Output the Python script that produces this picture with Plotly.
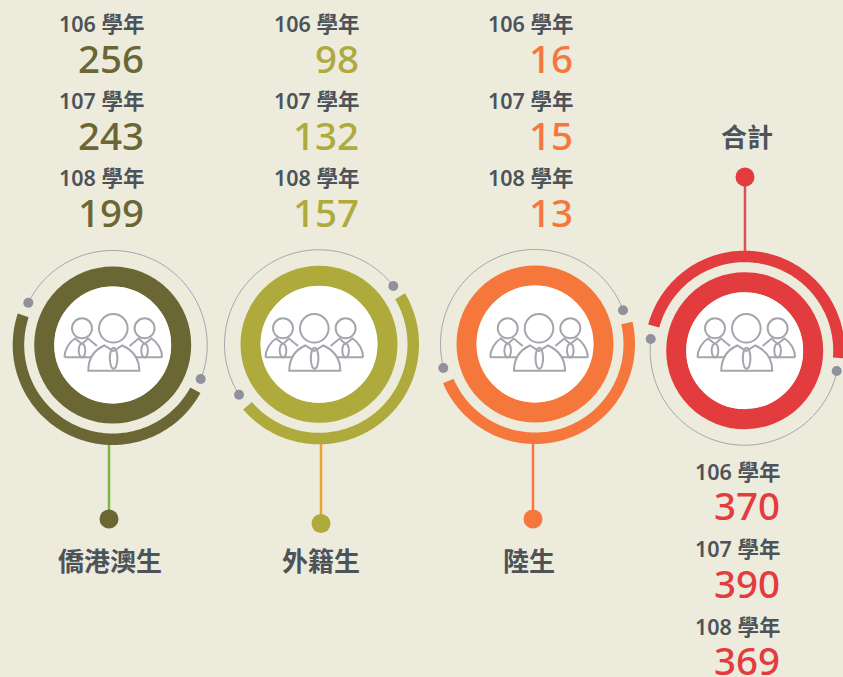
import numpy as np
import plotly.graph_objects as go

# ---- data ----
categories = ["僑港澳生", "外籍生", "陸生", "合計"]
years = ["106 學年", "107 學年", "108 學年"]
overseas = [256, 243, 199]
foreign = [98, 132, 157]
mainland = [16, 15, 13]
total = [370, 390, 369]
series = [overseas, foreign, mainland, total]

# ---- style / layout ----
BG = "#ecebdc"
TEXT = "#4d5359"
GREY = "#8f919b"
THIN = "#a2a4ac"
ICON = "#a4a6ae"
FONT = "'Noto Sans','Noto Sans CJK TC','Noto Sans CJK SC',sans-serif"

panels = [
    dict(c="#6a6735", cx=112.7, cy=345.0, ix=113.3, right=145, conn="#7ab648",
         line=(109, 437, 519), dot=(109, 519), label=(110, 561),
         a=(-90.7, -30, 82, 45, "ccw"), t=(28.3, 302.7, 200.7, 379), ty=[24, 101, 178], vy=[59, 136, 213]),
    dict(c="#aeaa3c", cx=319.0, cy=344.3, ix=314.3, right=360, conn="#f0a030",
         line=(321, 443, 523), dot=(321, 523.5), label=(321, 561),
         a=(-72, 62, 81, -48, "ccw"), t=(239, 394.7, 393.3, 286), ty=[24, 101, 178], vy=[59, 136, 213]),
    dict(c="#f6773c", cx=535.0, cy=344.0, ix=539.0, right=574, conn="#f6773c",
         line=(533, 437, 519), dot=(533, 519), label=(529, 561),
         a=(-87, 37, 92, -21, "ccw"), t=(443.3, 368, 623, 310.3), ty=[24, 101, 178], vy=[59, 136, 213]),
    dict(c="#e33c3e", cx=744.7, cy=350.7, ix=746.3, right=781, conn="#dc5252",
         line=(745, 177, 251), dot=(745, 177), label=(747, 137),
         a=(-90.7, -24.7, 93.6, 7.3, "cw"), t=(650.7, 339, 836.7, 371), ty=[472, 549, 627], vy=[506, 584, 661]),
]

shapes = []
annotations = []


def circle(x, y, r, fill, line=None, w=0):
    shapes.append(dict(type="circle", xref="x", yref="y", x0=x - r, x1=x + r, y0=y - r, y1=y + r,
                       fillcolor=fill, line=dict(color=line or fill, width=w)))


def path(d, color, w=2.0, fill=None):
    shapes.append(dict(type="path", xref="x", yref="y", path=d, fillcolor=fill or "rgba(0,0,0,0)",
                       line=dict(color=color, width=w)))


def arc_pts(cx, cy, r, a0, a1, n=160):
    t = np.linspace(a0, a1, n)
    return cx + r * np.cos(t), cy + r * np.sin(t)


def band(cx, cy, r0, r1, a0, a1, color):
    xo, yo = arc_pts(cx, cy, r1, a0, a1)
    xi, yi = arc_pts(cx, cy, r0, a1, a0)
    xs = np.concatenate([xo, xi])
    ys = np.concatenate([yo, yi])
    d = "M" + " L".join(f"{x:.2f},{y:.2f}" for x, y in zip(xs, ys)) + " Z"
    shapes.append(dict(type="path", xref="x", yref="y", path=d, fillcolor=color, line=dict(width=0)))


def ellipse(x, y, rx, ry, color, w=2.0):
    shapes.append(dict(type="circle", xref="x", yref="y", x0=x - rx, x1=x + rx, y0=y - ry, y1=y + ry,
                       fillcolor="rgba(0,0,0,0)", line=dict(color=color, width=w)))


def person(ix, side=0):
    """Line icon of a person; side=-1/1 are the smaller flanking figures."""
    if side == 0:
        ellipse(ix, 328.3, 14.3, 14.3, ICON)
        path(f"M{ix-25},370.7 C{ix-25},358 {ix-19},350 {ix-9},345.5 L{ix},351 L{ix+9},345.5 "
             f"C{ix+19},350 {ix+26},358 {ix+26},370.7 Z", ICON)
        ellipse(ix + 0.3, 358.3, 3.8, 10.5, ICON)
    else:
        hx = ix + side * 31.3
        ellipse(hx, 328.3, 10, 10, ICON)
        s = side
        outer = hx + s * 17.5
        path(f"M{outer},357.3 C{outer},350 {hx+s*13},342 {hx+s*7},338.5 L{hx},344 L{hx-s*6},338.5 "
             f"L{hx-s*15},346 M{hx-s*9},357.3 L{outer},357.3", ICON)
        ellipse(hx, 350.5, 3.3, 7, ICON)


def text(x, y, s, size, color, anchor="center", weight=500):
    annotations.append(dict(x=x, y=y, xref="x", yref="y", text=s, showarrow=False, xanchor=anchor,
                            yanchor="middle", align=anchor, borderpad=0,
                            font=dict(family=FONT, size=size, color=color, weight=weight)))


for cat, vals, p in zip(categories, series, panels):
    cx, cy, c = p["cx"], p["cy"], p["c"]
    # connector first so the ring sits over it
    lx, ly0, ly1 = p["line"]
    shapes.append(dict(type="line", xref="x", yref="y", x0=lx, x1=lx, y0=ly0, y1=ly1,
                       line=dict(color=p["conn"], width=2.5)))
    circle(*p["dot"], 9.5, c)

    # outer band
    dx0, dy0, dx1, dy1, way = p["a"]
    a0 = np.arctan2(dy0, dx0)
    a1 = np.arctan2(dy1, dx1)
    if way == "ccw":   # through the bottom (screen y grows downward)
        while a1 > a0:
            a1 -= 2 * np.pi
    else:              # through the top
        while a1 < a0:
            a1 += 2 * np.pi
    band(cx, cy, 88.5, 100, a0, a1, c)

    # thin arc with end dots
    tx0, ty0, tx1, ty1 = p["t"]
    b0 = np.arctan2(ty0 - cy, tx0 - cx)
    b1 = np.arctan2(ty1 - cy, tx1 - cx)
    if way == "ccw":   # opposite side: over the top
        while b1 < b0:
            b1 += 2 * np.pi
        if b1 - b0 < np.pi * 0.5:
            b1 += 2 * np.pi
    else:
        while b1 > b0:
            b1 -= 2 * np.pi
    xs, ys = arc_pts(cx, cy, 94.5, b0, b1)
    path("M" + " L".join(f"{x:.2f},{y:.2f}" for x, y in zip(xs, ys)), THIN, 1)
    circle(tx0, ty0, 5, GREY)
    circle(tx1, ty1, 5, GREY)

    # main ring and disc
    circle(cx, cy, 68.5, "rgba(0,0,0,0)", c, 20)
    circle(cx, cy, 58.4, "#ffffff")

    # icon
    ix = p["ix"]
    person(ix, -1)
    person(ix, 1)
    person(ix, 0)

    # texts
    for yr, v, ty, vy in zip(years, vals, p["ty"], p["vy"]):
        text(p["right"] + 0.5, ty - 0.5, yr, 21.5, TEXT, "right", 600)
        text(p["right"], vy - 1, str(v), 38.5, c, "right", 500)
    text(*p["label"], cat, 26, TEXT, "center", 600)

fig = go.Figure()
fig.update_layout(
    width=843, height=677, autosize=False,
    margin=dict(l=0, r=0, t=0, b=0),
    paper_bgcolor=BG, plot_bgcolor=BG, showlegend=False,
    xaxis=dict(range=[0, 843], visible=False, fixedrange=True),
    yaxis=dict(range=[677, 0], visible=False, fixedrange=True),
    shapes=shapes, annotations=annotations,
)
fig.write_html("out.html", config=dict(displayModeBar=False),
               post_script="document.body.style.margin='0';document.body.style.background='#ecebdc';document.body.style.overflow='hidden';")
